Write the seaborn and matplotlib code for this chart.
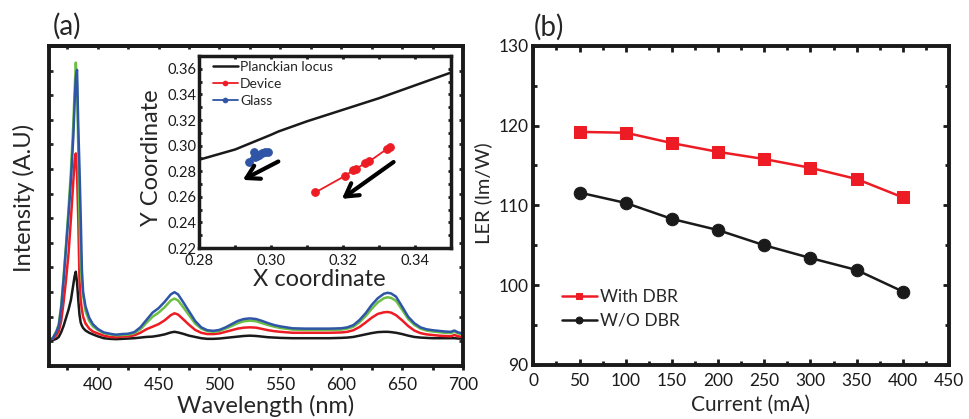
import matplotlib
matplotlib.use("Agg")
import matplotlib.pyplot as plt
import seaborn as sns
from matplotlib.ticker import MultipleLocator, LinearLocator, NullFormatter

# ---- data ----
wavelength = [360, 363, 366, 368, 370, 372, 374, 376, 378, 380, 381, 382, 383, 384, 385, 386, 387, 388,
              390, 393, 396, 400, 405, 410, 415, 420, 425, 430, 435, 440, 445, 450, 455, 460, 463, 466,
              470, 475, 480, 485, 490, 495, 500, 505, 510, 515, 520, 525, 530, 535, 540, 545, 550, 560,
              570, 580, 590, 600, 605, 610, 615, 620, 625, 630, 635, 638, 641, 645, 650, 655, 660, 665,
              670, 675, 680, 685, 690, 693, 696, 700]

spec_blue = [8.2, 8.5, 10.5, 12.5, 18, 27, 37, 47, 58, 72, 82, 90, 92.5, 75, 62, 47, 30, 23,
             18.5, 15, 13, 11.5, 10.4, 10.0, 9.7, 9.9, 10.0, 10.5, 12.0, 14.3, 16.6, 18.0, 20.0, 22.3, 23.0, 22.3,
             20.0, 17.0, 14.0, 12.0, 11.1, 10.9, 11.2, 12.0, 13.0, 14.0, 14.6, 14.8, 14.6, 14.0, 13.3, 12.7, 12.3, 11.7,
             11.6, 11.6, 11.6, 11.7, 12.0, 12.7, 14.3, 16.4, 19.0, 21.1, 22.5, 22.8, 22.6, 21.6, 18.5, 15.3, 13.3, 12.0,
             11.4, 11.1, 10.9, 10.7, 10.6, 11.0, 10.4, 10.1]

spec_green = [8.2, 8.6, 10.8, 13, 19, 28, 38, 49, 61, 76, 86, 94.8, 88, 68, 46, 32, 26, 22,
              17, 14, 12.3, 11.2, 10.2, 9.8, 9.5, 9.6, 9.7, 10.2, 11.4, 13.4, 15.3, 16.6, 18.3, 20.4, 21.0, 20.4,
              18.4, 15.8, 13.2, 11.6, 10.8, 10.6, 10.9, 11.6, 12.4, 13.3, 13.9, 14.1, 13.9, 13.3, 12.7, 12.2, 11.8, 11.3,
              11.2, 11.2, 11.2, 11.3, 11.6, 12.2, 13.6, 15.5, 17.8, 19.8, 21.1, 21.4, 21.2, 20.3, 17.5, 14.6, 12.8, 11.6,
              11.0, 10.7, 10.5, 10.3, 10.2, 10.6, 10.1, 9.8]

spec_red = [8.2, 8.4, 9.5, 10.8, 14, 20, 27, 35, 46, 58, 64, 66.4, 60, 46, 27, 20.5, 17.5, 15.3,
            13.2, 11.6, 10.7, 10.1, 9.4, 9.0, 8.9, 9.1, 9.2, 9.5, 10.3, 11.4, 12.2, 13.0, 14.2, 15.8, 16.4, 16.0,
            14.6, 12.8, 11.2, 10.3, 9.9, 9.9, 10.1, 10.6, 11.1, 11.6, 11.9, 12.0, 11.9, 11.5, 11.1, 10.8, 10.6, 10.3,
            10.3, 10.3, 10.3, 10.4, 10.6, 11.1, 12.1, 13.5, 15.0, 16.2, 16.7, 16.8, 16.6, 15.8, 14.2, 12.4, 11.0, 10.2,
            9.8, 9.6, 9.4, 9.3, 9.2, 9.6, 9.2, 9.0]

spec_black = [8.1, 8.0, 8.4, 9.0, 10.5, 12.5, 15, 17.5, 20.6, 25.5, 28, 29.4, 26, 20.6, 16, 13.5, 12.5, 11.8,
              11, 10.3, 9.8, 9.2, 8.6, 8.4, 8.3, 8.4, 8.5, 8.6, 8.8, 9.0, 9.1, 9.4, 9.8, 10.4, 10.6, 10.4,
              10.0, 9.4, 9.0, 8.6, 8.4, 8.4, 8.5, 8.7, 8.9, 9.1, 9.3, 9.4, 9.3, 9.1, 8.9, 8.8, 8.7, 8.6,
              8.6, 8.6, 8.6, 8.7, 8.8, 9.0, 9.4, 9.8, 10.2, 10.5, 10.6, 10.6, 10.5, 10.3, 9.9, 9.4, 9.0, 8.8,
              8.7, 8.6, 8.6, 8.6, 8.6, 8.6, 8.5, 8.5]

planck_x = [0.280, 0.290, 0.300, 0.302, 0.310, 0.320, 0.330, 0.340, 0.350]
planck_y = [0.289, 0.297, 0.3085, 0.311, 0.319, 0.328, 0.337, 0.347, 0.357]

device_x = [0.3123, 0.3206, 0.3228, 0.3237, 0.3261, 0.3273, 0.3322, 0.3332]
device_y = [0.2634, 0.2764, 0.2806, 0.2817, 0.2864, 0.2876, 0.2973, 0.2986]

glass_x = [0.2938, 0.2953, 0.2955, 0.2962, 0.2967, 0.2975, 0.2982, 0.2990]
glass_y = [0.2875, 0.2947, 0.2912, 0.2920, 0.2930, 0.2942, 0.2952, 0.2953]

current = [50, 100, 150, 200, 250, 300, 350, 400]
ler_dbr = [119.2, 119.1, 117.8, 116.7, 115.8, 114.7, 113.3, 111.0]
ler_nodbr = [111.6, 110.3, 108.3, 106.9, 105.0, 103.4, 101.9, 99.2]

RED = "#ED1C24"
BLACK = "#1a1a1a"
GREEN = "#6DBE45"
BLUE = "#2F55A6"

sns.set_theme(style="ticks")
plt.rcParams["font.family"] = ["Lato", "DejaVu Sans"]
plt.rcParams["axes.linewidth"] = 2.8
plt.rcParams["axes.edgecolor"] = BLACK

fig = plt.figure(figsize=(9.69, 4.19), dpi=100)

# ---- panel (a) ----
ax1 = fig.add_axes([0.0506, 0.1272, 0.4272, 0.763])
for ys, c in [(spec_black, BLACK), (spec_red, RED), (spec_green, GREEN), (spec_blue, BLUE)]:
    sns.lineplot(x=wavelength, y=ys, color=c, lw=1.8, ax=ax1)
ax1.set_xlim(360, 700)
ax1.set_ylim(0, 100)
ax1.xaxis.set_major_locator(MultipleLocator(50))
ax1.xaxis.set_minor_locator(MultipleLocator(25))
ax1.yaxis.set_major_locator(LinearLocator(14))
ax1.yaxis.set_major_formatter(NullFormatter())
ax1.tick_params(axis="x", which="both", direction="out", length=3, width=2, labelsize=12.5, pad=5, colors=BLACK)
ax1.tick_params(axis="y", which="both", direction="in", length=3, width=2, left=True, right=True)
top = ax1.secondary_xaxis("top")
top.xaxis.set_major_locator(MultipleLocator(25))
top.xaxis.set_major_formatter(NullFormatter())
top.tick_params(direction="in", length=2.5, width=2)
top.spines["top"].set_linewidth(2.8)
ax1.set_xlabel("Wavelength (nm)", fontsize=17)
ax1.set_ylabel("Intensity (A.U)", fontsize=17)
ax1.xaxis.set_label_coords(0.524, -0.09)
ax1.yaxis.set_label_coords(-0.035, 0.526)
fig.text(0.054, 0.937, "(a)", fontsize=20, va="center", ha="left")

# ---- inset ----
ins = fig.add_axes([0.2057, 0.4081, 0.2594, 0.4582])
ins.set_facecolor("white")
sns.lineplot(x=planck_x, y=planck_y, color=BLACK, lw=1.8, ax=ins, label="Planckian locus")
sns.lineplot(x=device_x, y=device_y, color=RED, lw=1.3, marker="o", ms=5.5, mec=RED,
             sort=False, ax=ins, label="Device")
sns.lineplot(x=glass_x, y=glass_y, color=BLUE, lw=1.3, marker="o", ms=5.5, mec=BLUE,
             sort=False, ax=ins, label="Glass")
arrow = dict(arrowstyle="->,head_length=0.6,head_width=0.35", lw=3, color="black",
             mutation_scale=15, shrinkA=0, shrinkB=0)
ins.annotate("", xy=(0.2921, 0.2732), xytext=(0.3020, 0.2876), arrowprops=arrow)
ins.annotate("", xy=(0.3197, 0.2584), xytext=(0.3341, 0.2872), arrowprops=arrow)
ins.set_xlim(0.28, 0.35)
ins.set_ylim(0.22, 0.37)
ins.xaxis.set_major_locator(MultipleLocator(0.02))
ins.xaxis.set_minor_locator(MultipleLocator(0.01))
ins.yaxis.set_major_locator(MultipleLocator(0.02))
ins.yaxis.set_minor_locator(MultipleLocator(0.01))
ins.xaxis.set_major_formatter(plt.FuncFormatter(lambda v, p: f"{v:.2f}"))
ins.yaxis.set_major_formatter(plt.FuncFormatter(lambda v, p: f"{v:.2f}"))
for s in ins.spines.values():
    s.set_linewidth(2.5)
ins.tick_params(which="both", direction="in", length=2.5, width=2, top=True, right=True,
                labelsize=10.5, colors=BLACK)
ins.tick_params(axis="x", pad=4.5)
ins.tick_params(axis="y", pad=2)
ins.set_xlabel("X coordinate", fontsize=17)
ins.set_ylabel("Y Coordinate", fontsize=17)
ins.xaxis.set_label_coords(0.476, -0.11)
ins.yaxis.set_label_coords(-0.15, 0.471)
ins.legend(loc="upper left", bbox_to_anchor=(0.054, 0.975), frameon=False, fontsize=10,
           borderpad=0, borderaxespad=0, handlelength=1.8, handletextpad=0.15,
           labelspacing=0.35, markerscale=0.6)

# ---- panel (b) ----
ax2 = fig.add_axes([0.5504, 0.1289, 0.429, 0.762])
sns.lineplot(x=current, y=ler_dbr, color=RED, lw=1.8, marker="s", ms=8.6, mec=RED,
             ax=ax2, label="With DBR")
sns.lineplot(x=current, y=ler_nodbr, color=BLACK, lw=1.8, marker="o", ms=9, mec=BLACK,
             ax=ax2, label="W/O DBR")
ax2.set_xlim(0, 450)
ax2.set_ylim(90, 130)
ax2.xaxis.set_major_locator(MultipleLocator(50))
ax2.xaxis.set_minor_locator(MultipleLocator(25))
ax2.yaxis.set_major_locator(MultipleLocator(10))
ax2.yaxis.set_minor_locator(MultipleLocator(5))
ax2.tick_params(which="both", direction="in", width=2, right=True, top=True,
                labelsize=12.5, colors=BLACK)
ax2.tick_params(which="major", length=4)
ax2.tick_params(which="minor", length=3)
ax2.tick_params(axis="x", pad=6)
ax2.tick_params(axis="y", pad=3.5)
ax2.set_xlabel("Current (mA)", fontsize=15)
ax2.set_ylabel("LER (lm/W)", fontsize=14.5)
ax2.xaxis.set_label_coords(0.523, -0.094)
ax2.yaxis.set_label_coords(-0.1, 0.539)
ax2.legend(loc="center left", bbox_to_anchor=(0.069, 0.175), frameon=False, fontsize=12.5,
           borderpad=0, borderaxespad=0, handlelength=2.0, handletextpad=0.2,
           labelspacing=0.44, markerscale=0.55)
fig.text(0.551, 0.935, "(b)", fontsize=20, va="center", ha="left")

fig.savefig("out.png", dpi=100)
